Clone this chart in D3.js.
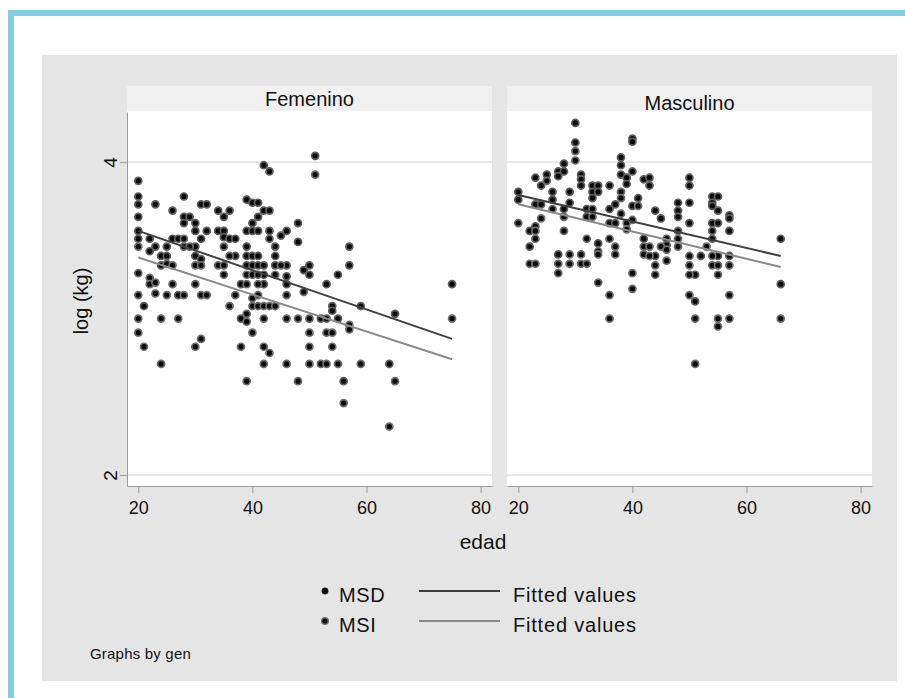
<!DOCTYPE html>
<html>

<head>
  <meta charset="utf-8">
  <script src="https://d3js.org/d3.v7.min.js"></script>

  <style>
    body {
      margin: 0;
      background: #fff;
    }

    text {
      font-family: "Liberation Sans", Arial, Helvetica, sans-serif;
      fill: #111;
    }

    .grid {
      stroke: #e4e4e4;
      stroke-width: 1.8px;
    }

    .fit-msd {
      fill: none;
      stroke: #404040;
      stroke-width: 2px;
    }

    .fit-msi {
      fill: none;
      stroke: #8a8a8a;
      stroke-width: 2px;
    }
  </style>
</head>

<body>
  <svg id="chart" width="905" height="698"></svg>

  <script>
    // ---- data: [edad, log(kg)] ----
    const femMSD = [
      [20, 3.88], [20, 3.78], [20, 3.73], [20, 3.65], [20, 3.56], [20, 3.51],
      [21, 3.08], [22, 3.51], [22, 3.43], [23, 3.73], [23, 3.46],
      [24, 3.40], [24, 3.34], [25, 3.46], [25, 3.40], [26, 3.69], [26, 3.51],
      [27, 3.51], [27, 3.15], [28, 3.78], [28, 3.65], [28, 3.61], [29, 3.65],
      [30, 3.61], [30, 3.56], [30, 3.46], [30, 3.40], [31, 3.73], [31, 3.51], [31, 3.38],
      [32, 3.73], [32, 3.56], [34, 3.69], [34, 3.56], [35, 3.65], [35, 3.56], [35, 3.52],
      [36, 3.69], [36, 3.51], [37, 3.51], [37, 3.40], [38, 3.22], [38, 3.00],
      [39, 3.76], [39, 3.56], [39, 3.46], [39, 3.40], [39, 3.34],
      [40, 3.74], [40, 3.61], [40, 3.56], [40, 3.40], [40, 3.34],
      [41, 3.74], [41, 3.65], [41, 3.56], [41, 3.40], [41, 3.34],
      [42, 3.98], [42, 3.69], [42, 3.34], [42, 3.28], [42, 3.22],
      [43, 3.94], [43, 3.69], [43, 3.56], [44, 3.46], [44, 3.40], [44, 3.34],
      [45, 3.53], [46, 3.56], [46, 3.34], [46, 3.27], [46, 3.22], [48, 3.61], [48, 3.49],
      [49, 3.31], [50, 3.34], [50, 3.28], [50, 3.00], [51, 4.04], [52, 3.00],
      [53, 3.22], [53, 3.00], [54, 3.08], [54, 3.05], [55, 3.28], [55, 3.00],
      [56, 2.60], [57, 3.46], [57, 3.34], [59, 3.08], [64, 2.71], [65, 3.03], [75, 3.22]
    ];
    const femMSI = [
      [20, 3.46], [20, 3.29], [20, 3.15], [20, 3.00], [20, 2.91], [21, 2.82],
      [22, 3.26], [22, 3.22], [23, 3.23], [23, 3.16], [24, 3.00], [24, 2.71],
      [25, 3.35], [25, 3.15], [26, 3.34], [26, 3.22], [27, 3.00],
      [28, 3.51], [28, 3.46], [28, 3.15], [29, 3.46], [30, 3.34], [30, 3.22], [30, 2.82],
      [31, 3.34], [31, 3.15], [31, 2.87], [32, 3.15], [34, 3.34],
      [35, 3.46], [35, 3.34], [35, 3.28], [36, 3.40], [36, 3.08], [37, 3.15], [38, 2.82],
      [39, 3.28], [39, 3.22], [39, 3.03], [39, 2.98], [39, 2.60],
      [40, 3.28], [40, 3.13], [40, 3.08], [40, 2.91],
      [41, 3.28], [41, 3.22], [41, 3.15], [41, 3.08],
      [42, 3.08], [42, 3.00], [42, 2.82], [42, 2.71], [43, 3.51], [43, 3.08], [43, 2.78],
      [44, 3.28], [44, 3.08], [45, 3.34], [46, 3.15], [46, 3.00], [46, 2.71],
      [48, 3.00], [48, 2.60], [49, 3.17], [50, 2.91], [50, 2.82], [50, 2.71],
      [51, 3.92], [52, 2.71], [53, 2.91], [53, 2.71], [54, 2.91], [54, 2.82],
      [55, 2.71], [56, 2.46], [57, 2.96], [57, 2.93], [59, 2.71], [64, 2.31],
      [65, 2.60], [75, 3.00]
    ];
    const masMSD = [
      [20, 3.81], [20, 3.76], [22, 3.56], [22, 3.46], [23, 3.90], [23, 3.73], [23, 3.59],
      [24, 3.85], [24, 3.73], [25, 3.92], [26, 3.81], [26, 3.76],
      [27, 3.94], [27, 3.91], [27, 3.41], [28, 3.99], [28, 3.94], [28, 3.70],
      [29, 3.81], [29, 3.74], [30, 4.25], [30, 4.125], [31, 3.92], [31, 3.89], [31, 3.85],
      [32, 3.70], [32, 3.65], [33, 3.85], [33, 3.81], [33, 3.77],
      [34, 3.85], [34, 3.81], [34, 3.48], [36, 3.85], [36, 3.70], [36, 3.61],
      [37, 3.73], [37, 3.61], [38, 4.03], [38, 3.98], [38, 3.92], [39, 3.90], [39, 3.86],
      [40, 4.15], [40, 4.13], [40, 3.94], [40, 3.72], [41, 3.77], [42, 3.89], [42, 3.51],
      [43, 3.90], [43, 3.85], [44, 3.69], [44, 3.40], [45, 3.64], [46, 3.51], [46, 3.47],
      [48, 3.74], [48, 3.69], [48, 3.65], [50, 3.90], [50, 3.85], [50, 3.74], [50, 3.61],
      [51, 3.28], [51, 3.11], [52, 3.40], [54, 3.78], [54, 3.74], [54, 3.72], [54, 3.61],
      [55, 3.78], [55, 3.69], [55, 3.61], [55, 3.40],
      [57, 3.66], [57, 3.64], [57, 3.56], [57, 3.40], [66, 3.51], [66, 3.22]
    ];
    const masMSI = [
      [20, 3.61], [22, 3.35], [23, 3.56], [23, 3.51], [23, 3.35], [24, 3.64], [25, 3.88],
      [26, 3.70], [27, 3.35], [27, 3.29], [28, 3.65], [28, 3.56], [29, 3.41], [29, 3.35],
      [30, 4.07], [30, 4.01], [31, 3.41], [31, 3.35], [32, 3.51], [32, 3.35],
      [33, 3.70], [33, 3.65], [34, 3.43], [34, 3.41], [34, 3.23],
      [36, 3.51], [36, 3.15], [36, 3.00], [37, 3.46], [37, 3.41],
      [38, 3.81], [38, 3.77], [38, 3.67], [39, 3.61], [39, 3.57],
      [40, 3.63], [40, 3.29], [40, 3.19], [41, 3.72], [42, 3.46], [42, 3.41],
      [43, 3.46], [43, 3.40], [44, 3.34], [44, 3.28], [45, 3.46], [46, 3.44], [46, 3.37],
      [48, 3.56], [48, 3.51], [48, 3.46], [50, 3.40], [50, 3.34], [50, 3.28], [50, 3.15],
      [51, 3.00], [51, 2.71], [53, 3.46], [54, 3.56], [54, 3.51], [54, 3.40], [54, 3.34],
      [55, 3.34], [55, 3.28], [55, 3.00], [55, 2.95], [57, 3.34], [57, 3.15], [57, 3.00],
      [66, 3.00]
    ];

    // fitted values (line ends as seen in the picture)
    const femFitMSD = [[20, 3.56], [75, 2.87]];
    const femFitMSI = [[20, 3.39], [75, 2.74]];
    const masFitMSD = [[20, 3.79], [66, 3.40]];
    const masFitMSI = [[20, 3.73], [66, 3.33]];

    const xTicks = [20, 40, 60, 80];
    const yTicks = [2, 4];
    const panelNames = ["Femenino", "Masculino"];
    const legendLabels = ["MSD", "MSI"];
    const fitLabel = "Fitted values";

    // ---- layout ----
    const svg = d3.select("#chart");

    svg.append("rect").attr("x", 8).attr("y", 10).attr("width", 897).attr("height", 6).attr("fill", "#7fcfdf");
    svg.append("rect").attr("x", 8).attr("y", 10).attr("width", 6).attr("height", 688).attr("fill", "#7fcfdf");
    svg.append("rect").attr("x", 42).attr("y", 55).attr("width", 855).attr("height", 626).attr("fill", "#e5e5e5");

    const plotTop = 112, plotBottom = 486, panelW = 365;
    const y = d3.scaleLinear().domain([1.93, 4.32]).range([plotBottom, plotTop]);
    const x = d3.scaleLinear().domain([18.02, 82.0]).range([0, panelW]);

    const panels = [
      { name: panelNames[0], msd: femMSD, msi: femMSI, fitD: femFitMSD, fitI: femFitMSI, left: 127, titleY: 106, yAxis: true },
      { name: panelNames[1], msd: masMSD, msi: masMSI, fitD: masFitMSD, fitI: masFitMSI, left: 507, titleY: 109.5, yAxis: false }
    ];

    const line = d3.line().x(d => x(d[0])).y(d => y(d[1]));
    const font = "'Liberation Sans', Arial, sans-serif";

    panels.forEach(p => {
      const g = svg.append("g").attr("transform", "translate(" + p.left + ",0)");

      // header strip + plot region
      g.append("rect").attr("x", 0).attr("y", 86).attr("width", panelW).attr("height", 25).attr("fill", "#f0f0f0");
      g.append("rect").attr("x", 0).attr("y", 111).attr("width", panelW).attr("height", plotBottom - 111).attr("fill", "#fff");
      g.append("text").attr("x", panelW / 2).attr("y", p.titleY)
        .attr("text-anchor", "middle").style("font-size", "20px").text(p.name);

      g.selectAll("line.grid").data(yTicks).join("line")
        .attr("class", "grid")
        .attr("x1", 0).attr("x2", panelW)
        .attr("y1", d => y(d)).attr("y2", d => y(d));

      // x axis
      const xa = g.append("g").attr("transform", "translate(0," + plotBottom + ")")
        .call(d3.axisBottom(x).tickValues(xTicks).tickFormat(d3.format("d")).tickSize(7).tickSizeOuter(0));
      xa.select(".domain").attr("stroke", "#9c9c9c");
      xa.selectAll(".tick line").attr("stroke", "#9c9c9c");
      xa.selectAll(".tick text").attr("y", 28).attr("dy", 0)
        .style("font-size", "18px").style("font-family", font).attr("fill", "#111");

      // y axis (first column only)
      if (p.yAxis) {
        const ya = g.append("g")
          .call(d3.axisLeft(y).tickValues(yTicks).tickFormat(d3.format("d")).tickSize(7).tickSizeOuter(0));
        ya.select(".domain").attr("stroke", "#9c9c9c");
        ya.selectAll(".tick line").attr("stroke", "#9c9c9c");
        ya.selectAll(".tick text")
          .attr("x", 0).attr("y", -10).attr("dy", 0)
          .attr("transform", "rotate(-90)")
          .attr("text-anchor", "middle")
          .style("font-size", "19px").style("font-family", font).attr("fill", "#111");
      }

      // markers
      g.selectAll("circle.msd").data(p.msd).join("circle")
        .attr("class", "msd")
        .attr("cx", d => x(d[0])).attr("cy", d => y(d[1])).attr("r", 3.5)
        .attr("fill", "#0a0a0a").attr("stroke", "#5e5e5e").attr("stroke-width", 1.7);
      g.selectAll("circle.msi").data(p.msi).join("circle")
        .attr("class", "msi")
        .attr("cx", d => x(d[0])).attr("cy", d => y(d[1])).attr("r", 3.5)
        .attr("fill", "#0a0a0a").attr("stroke", "#6e6e6e").attr("stroke-width", 1.7);

      // fitted lines
      g.append("path").datum(p.fitD).attr("class", "fit-msd").attr("d", line);
      g.append("path").datum(p.fitI).attr("class", "fit-msi").attr("d", line);
    });

    // axis titles
    svg.append("text").attr("x", 483).attr("y", 549).attr("text-anchor", "middle")
      .style("font-size", "21px").text("edad");
    svg.append("text").attr("transform", "translate(88,301) rotate(-90)").attr("text-anchor", "middle")
      .style("font-size", "20px").text("log (kg)");

    // legend
    const legendRows = [
      { label: legendLabels[0], cy: 591, cls: "fit-msd", ring: null },
      { label: legendLabels[1], cy: 621, cls: "fit-msi", ring: "#6e6e6e" }
    ];
    const lg = svg.append("g");
    legendRows.forEach(r => {
      lg.append("circle").attr("cx", 325).attr("cy", r.cy).attr("r", r.ring ? 3.3 : 3.2)
        .attr("fill", "#0a0a0a").attr("stroke", r.ring || "#222").attr("stroke-width", r.ring ? 1.4 : 0.6);
      lg.append("text").attr("x", 339).attr("y", r.cy + 11).style("font-size", "20px")
        .style("letter-spacing", "0.6px").text(r.label);
      lg.append("line").attr("class", r.cls).attr("x1", 419).attr("x2", 500)
        .attr("y1", r.cy).attr("y2", r.cy);
      lg.append("text").attr("x", 513).attr("y", r.cy + 11).style("font-size", "20px")
        .style("letter-spacing", "0.8px").text(fitLabel);
    });

    svg.append("text").attr("x", 90).attr("y", 659).style("font-size", "15px")
      .style("letter-spacing", "0.2px").text("Graphs by gen");
  </script>
</body>

</html>
